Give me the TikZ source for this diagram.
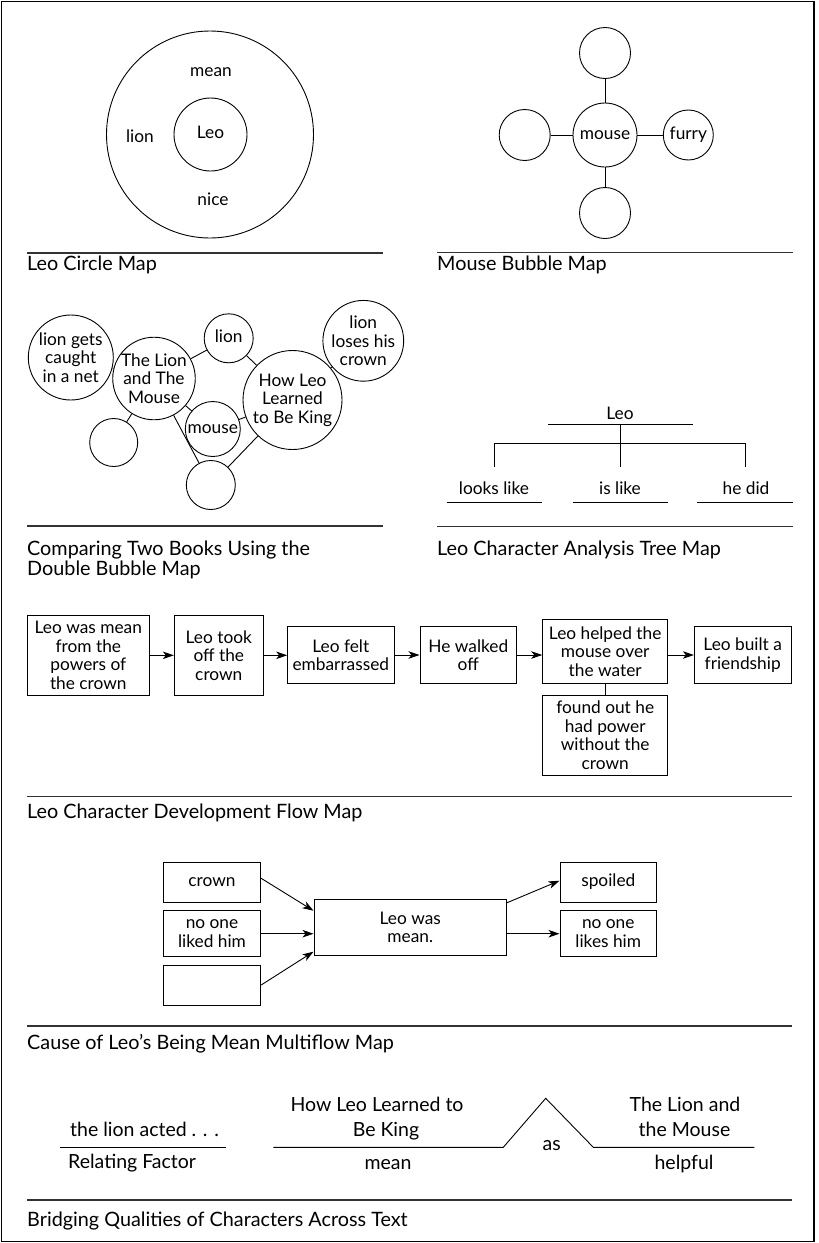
\documentclass[tikz,border=0pt]{standalone}
\usepackage{fontspec}
\setmainfont{Lato}
\usetikzlibrary{arrows.meta,calc}
\begin{document}
\begin{tikzpicture}[x=1pt,y=-1pt,
  every node/.style={font=\fontsize{17.3}{18.6}\selectfont, inner sep=0pt},
  w/.style={text height=11.5pt, text depth=3.5pt},
  btxt/.style={font=\fontsize{19.5}{22}\selectfont, anchor=base},
  ln/.style={line width=0.9pt},
  rulel/.style={line width=1.2pt, draw=black!80},
  bub/.style={circle, draw, line width=0.9pt, inner sep=0pt, align=center},
  box/.style={rectangle, draw, line width=0.9pt, align=center, inner sep=0pt},
  captxt/.style={font=\fontsize{19.8}{20}\selectfont, anchor=base west},
  arr/.style={line width=0.9pt, -{Stealth[length=11pt,width=7.5pt,inset=3pt]}},
]
\useasboundingbox (0,0) rectangle (819,1243);
\draw[line width=1.3pt] (1.5,1.5) rectangle (814,1241.5);

% ---------- Circle map
\node[bub, minimum size=207pt] (outer) at (210,134.5) {};
\node[bub, w, minimum size=73pt] (leo) at (210.5,134.5) {Leo};
\node[w] (cmean) at (211,72) {mean};
\node[w] (clion) at (140,138.5) {lion};
\node[w] (cnice) at (213,201) {nice};
\coordinate (r1a) at (27,253); \coordinate (r1b) at (383,253);
\draw[rulel] (r1a) -- (r1b);
\node[captxt] (cap1) at (27,270) {Leo Circle Map};

% ---------- Bubble map
\node[bub, w, minimum size=64pt] (mouse) at (605,135) {mouse};
\node[bub, minimum size=51pt] (bt) at (605,53) {};
\node[bub, minimum size=51pt] (bl) at (524.7,135) {};
\node[bub, w, minimum size=50pt] (furry) at (688.3,135) {furry};
\node[bub, minimum size=51pt] (bb) at (605,213) {};
\draw[ln] (mouse) -- (bt);
\draw[ln] (mouse) -- (bl);
\draw[ln] (mouse) -- (furry);
\draw[ln] (mouse) -- (bb);
\coordinate (r2a) at (437,252.5); \coordinate (r2b) at (793,252.5);
\draw[rulel] (r2a) -- (r2b);
\node[captxt] (cap2) at (437,270) {Mouse Bubble Map};

% ---------- Double bubble map
\node[bub, minimum size=85pt] (net) at (70.8,357.5) {lion gets\\caught\\in a net};
\node[bub, minimum size=78pt] (book1) at (154,378.5) {The Lion\\and The\\Mouse};
\node[bub, w, minimum size=49pt] (lion2) at (228.7,338.3) {lion};
\node[bub, minimum size=71pt] (crownb) at (363.3,340.8) {lion\\loses his\\crown};
\node[bub, minimum size=99pt] (book2) at (292.5,400) {How Leo\\Learned\\to Be King};
\node[bub, w, minimum size=55pt] (mouse2) at (212.8,429) {mouse};
\node[bub, minimum size=48pt] (e1) at (113.7,442.5) {};
\node[bub, minimum size=49pt] (e2) at (210.8,485) {};
\draw[ln] (net) -- (book1);
\draw[ln] (book1) -- (lion2);
\draw[ln] (lion2) -- (book2);
\draw[ln] (crownb) -- (book2);
\draw[ln] (book1) -- (mouse2);
\draw[ln] (mouse2) -- (book2);
\draw[ln] (book1) -- (e1);
\draw[ln] (book1) -- (e2);
\draw[ln] (book2) -- (e2);
\coordinate (r3a) at (27,526); \coordinate (r3b) at (383,526);
\draw[rulel] (r3a) -- (r3b);
\node[captxt] (cap3a) at (27,555) {Comparing Two Books Using the};
\node[captxt] (cap3b) at (27,575) {Double Bubble Map};

% ---------- Tree map
\node[w] (tleo) at (620,415) {Leo};
\coordinate (tla) at (548.3,424); \coordinate (tlb) at (692.7,424);
\draw[ln] (tla) -- (tlb);
\coordinate (tt) at (620,424);
\coordinate (b1) at (494,466.7); \coordinate (b2) at (620,466.7); \coordinate (b3) at (745,466.7);
\coordinate (h1) at (494,443.3); \coordinate (h3) at (745,443.3);
\draw[ln] (tt) -- (b2);
\draw[ln] (b1) -- (h1) -- (h3) -- (b3);
\node[w] (t1) at (494,490) {looks like};
\node[w] (t2) at (620,490) {is like};
\node[w] (t3) at (746,490) {he did};
\coordinate (u1a) at (446.7,502.3); \coordinate (u1b) at (541.7,502.3);
\coordinate (u2a) at (572.7,502.3); \coordinate (u2b) at (668.3,502.3);
\coordinate (u3a) at (697.3,502.3); \coordinate (u3b) at (792.7,502.3);
\draw[ln] (u1a) -- (u1b); \draw[ln] (u2a) -- (u2b); \draw[ln] (u3a) -- (u3b);
\coordinate (r4a) at (437,526.5); \coordinate (r4b) at (793,526.5);
\draw[rulel] (r4a) -- (r4b);
\node[captxt] (cap4) at (437,555) {Leo Character Analysis Tree Map};

% ---------- Flow map
\node[box, minimum width=121.3pt, minimum height=80.7pt] (f1) at (88.3,655.3) {Leo was mean\\from the\\powers of\\the crown};
\node[box, minimum width=89pt, minimum height=80.7pt] (f2) at (218.8,655.3) {Leo took\\off the\\crown};
\node[box, minimum width=106.3pt, minimum height=56.7pt] (f3) at (340.8,655) {Leo felt\\embarrassed};
\node[box, minimum width=96.7pt, minimum height=56.7pt] (f4) at (468.3,655) {He walked\\off};
\node[box, minimum width=125pt, minimum height=64pt] (f5) at (605.2,651.3) {Leo helped the\\mouse over\\the water};
\node[box, minimum width=96.7pt, minimum height=56.7pt] (f6) at (742.7,655) {Leo built a\\friendship};
\node[box, minimum width=125pt, minimum height=80pt] (f7) at (605.2,735) {found out he\\had power\\without the\\crown};
\draw[arr] (f1.east) -- (f2.west);
\draw[arr] (f2.east) -- (f2.east -| f3.west);
\draw[arr] (f3.east) -- (f4.west);
\draw[arr] (f4.east) -- (f4.east -| f5.west);
\draw[arr] (f6.west -| f5.east) -- (f6.west);
\draw[ln] (f5.south) -- (f7.north);
\coordinate (r5a) at (27,796.5); \coordinate (r5b) at (792,796.5);
\draw[rulel] (r5a) -- (r5b);
\node[captxt] (cap5) at (27,818) {Leo Character Development Flow Map};

% ---------- Multiflow map
\node[box, w, minimum width=97.4pt, minimum height=40pt] (mc) at (212,882.7) {crown};
\node[box, minimum width=97.4pt, minimum height=46pt] (ml) at (212,933.7) {no one\\liked him};
\node[box, minimum width=97.4pt, minimum height=40pt] (me) at (212,985) {};
\node[box, minimum width=192.7pt, minimum height=56pt] (mm) at (410.3,927.3) {Leo was\\mean.};
\node[box, w, minimum width=96.7pt, minimum height=40pt] (ms) at (608.3,882.7) {spoiled};
\node[box, minimum width=96.7pt, minimum height=46pt] (mk) at (608.3,933.7) {no one\\likes him};
\draw[arr] ([yshift=4.4pt]mc.east) -- ([yshift=16.6pt]mm.west);
\draw[arr] (ml.east) -- (ml.east -| mm.west);
\draw[arr] (me.east) -- ([yshift=-24.4pt]mm.west);
\draw[arr] ([yshift=24.6pt]mm.east) -- ([yshift=2pt]ms.west);
\draw[arr] (mk.west -| mm.east) -- (mk.west);
\coordinate (r6a) at (27,1026); \coordinate (r6b) at (792,1026);
\draw[rulel] (r6a) -- (r6b);
\node[captxt] (cap6) at (27,1049) {Cause of Leo’s Being Mean Multiflow Map};

% ---------- Bridge map
\node[btxt, anchor=base west] (q1) at (70,1136) {the lion acted . . .};
\node[btxt, anchor=base west] (q2) at (68,1168) {Relating Factor};
\coordinate (l1a) at (60,1147.3); \coordinate (l1b) at (226,1147.3);
\draw[ln] (l1a) -- (l1b);
\coordinate (l2a) at (273.3,1147.3); \coordinate (l2b) at (503.3,1147.3);
\coordinate (apex) at (545.7,1098.3); \coordinate (l3a) at (593.3,1147.3);
\coordinate (l3b) at (754.3,1147.3);
\draw[ln] (l2a) -- (l2b) -- (apex) -- (l3a) -- (l3b);
\node[btxt] (k1a) at (377,1111.7) {How Leo Learned to};
\node[btxt] (k1b) at (386,1136.5) {Be King};
\node[btxt] (k1c) at (388,1169) {mean};
\node[btxt] (as) at (551.7,1150.7) {as};
\node[btxt] (k2a) at (685,1111.7) {The Lion and};
\node[btxt] (k2b) at (684.5,1136.5) {the Mouse};
\node[btxt] (k2c) at (684,1169) {helpful};
\coordinate (r7a) at (27,1200); \coordinate (r7b) at (792,1200);
\draw[rulel] (r7a) -- (r7b);
\node[captxt] (cap7) at (27,1226) {Bridging Qualities of Characters Across Text};
\end{tikzpicture}
\end{document}
